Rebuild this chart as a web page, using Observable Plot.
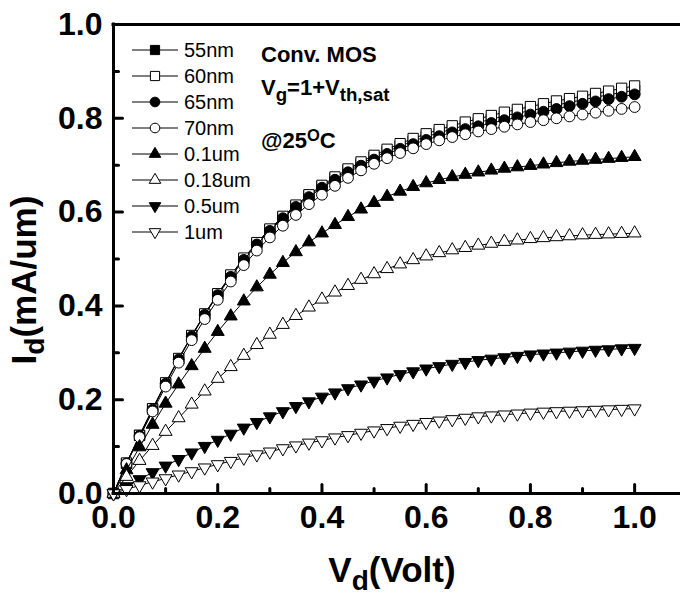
<!DOCTYPE html>
<html>
<head>
<meta charset="utf-8">
<script src="https://cdn.jsdelivr.net/npm/d3@7"></script>
<script src="https://cdn.jsdelivr.net/npm/@observablehq/plot@0.6"></script>
<style>
  html, body { margin: 0; padding: 0; background: #fff; }
  #chart { position: relative; width: 680px; height: 595px; overflow: hidden;
           font-family: "Liberation Sans", Arial, Helvetica, sans-serif; color: #000; }
  #chart > svg { position: absolute; left: 0; top: 0; }
  .txt { position: absolute; white-space: nowrap; line-height: 1; }
  .b { font-weight: bold; }
  .sub { position: relative; top: 0.32em; font-size: 0.85em; }
  .sup { position: relative; top: -0.45em; font-size: 0.75em; }
  #legend { position: absolute; left: 128px; top: 37px; font-size: 20px; }
  #legend .row { display: flex; align-items: center; height: 26px; }
  #legend .row svg { display: block; margin-right: 4px; }
</style>
</head>
<body>
<div id="chart"></div>
<script>
// Drain current I_d (mA/um) versus drain voltage V_d (V), conventional MOS, Vg = 1 + Vth,sat, 25 °C
const vd = [0, 0.025, 0.05, 0.075, 0.1, 0.125, 0.15, 0.175, 0.2, 0.225, 0.25, 0.275, 0.3, 0.325,
  0.35, 0.375, 0.4, 0.425, 0.45, 0.475, 0.5, 0.525, 0.55, 0.575, 0.6, 0.625, 0.65, 0.675, 0.7,
  0.725, 0.75, 0.775, 0.8, 0.825, 0.85, 0.875, 0.9, 0.925, 0.95, 0.975, 1.0];

const lengths = ["55nm", "60nm", "65nm", "70nm", "0.1um", "0.18um", "0.5um", "1um"];

const id55 = [0, 0.064, 0.124, 0.180, 0.235, 0.287, 0.336, 0.382, 0.425, 0.464, 0.500, 0.533, 0.562,
  0.589, 0.613, 0.635, 0.655, 0.672, 0.689, 0.703, 0.717, 0.729, 0.741, 0.751, 0.761, 0.769, 0.777,
  0.785, 0.791, 0.798, 0.805, 0.811, 0.816, 0.822, 0.828, 0.834, 0.839, 0.845, 0.850, 0.855, 0.860];
const id60 = [0, 0.065, 0.124, 0.181, 0.236, 0.288, 0.337, 0.383, 0.426, 0.466, 0.502, 0.535, 0.564,
  0.591, 0.615, 0.637, 0.657, 0.675, 0.692, 0.707, 0.721, 0.734, 0.746, 0.757, 0.767, 0.776, 0.784,
  0.792, 0.799, 0.806, 0.813, 0.819, 0.825, 0.831, 0.837, 0.842, 0.847, 0.853, 0.858, 0.864, 0.869];
const id65 = [0, 0.064, 0.123, 0.179, 0.234, 0.286, 0.335, 0.381, 0.423, 0.462, 0.498, 0.531, 0.560,
  0.587, 0.611, 0.632, 0.652, 0.669, 0.685, 0.699, 0.712, 0.724, 0.735, 0.745, 0.754, 0.762, 0.770,
  0.777, 0.783, 0.790, 0.796, 0.802, 0.808, 0.814, 0.820, 0.826, 0.831, 0.836, 0.841, 0.846, 0.851];
const id70 = [0, 0.063, 0.120, 0.175, 0.228, 0.279, 0.327, 0.372, 0.413, 0.452, 0.487, 0.518, 0.546,
  0.571, 0.594, 0.617, 0.637, 0.656, 0.673, 0.689, 0.703, 0.715, 0.726, 0.736, 0.745, 0.753, 0.760,
  0.766, 0.772, 0.777, 0.782, 0.787, 0.792, 0.796, 0.800, 0.804, 0.808, 0.812, 0.816, 0.820, 0.824];
const id100 = [0, 0.050, 0.099, 0.147, 0.192, 0.233, 0.272, 0.309, 0.345, 0.378, 0.410, 0.440, 0.467,
  0.492, 0.515, 0.536, 0.555, 0.573, 0.590, 0.606, 0.620, 0.633, 0.644, 0.654, 0.662, 0.669, 0.675,
  0.680, 0.685, 0.689, 0.693, 0.696, 0.699, 0.702, 0.705, 0.708, 0.710, 0.712, 0.714, 0.716, 0.718];
const id180 = [0, 0.036, 0.070, 0.102, 0.132, 0.161, 0.190, 0.218, 0.245, 0.270, 0.294, 0.317, 0.339,
  0.360, 0.379, 0.397, 0.414, 0.429, 0.443, 0.456, 0.468, 0.479, 0.489, 0.498, 0.506, 0.513, 0.519,
  0.524, 0.529, 0.533, 0.537, 0.540, 0.543, 0.545, 0.547, 0.549, 0.551, 0.552, 0.553, 0.554, 0.555];
const id500 = [0, 0.015, 0.030, 0.045, 0.059, 0.073, 0.087, 0.101, 0.114, 0.127, 0.140, 0.152, 0.164,
  0.175, 0.186, 0.196, 0.206, 0.215, 0.224, 0.232, 0.240, 0.247, 0.254, 0.260, 0.266, 0.271, 0.276,
  0.280, 0.284, 0.287, 0.290, 0.293, 0.296, 0.298, 0.300, 0.302, 0.304, 0.306, 0.307, 0.309, 0.310];
const id1000 = [0, 0.009, 0.017, 0.025, 0.032, 0.040, 0.047, 0.055, 0.062, 0.069, 0.076, 0.083, 0.089,
  0.096, 0.102, 0.108, 0.113, 0.119, 0.124, 0.129, 0.134, 0.139, 0.144, 0.148, 0.152, 0.155, 0.158,
  0.161, 0.164, 0.166, 0.168, 0.170, 0.172, 0.174, 0.175, 0.176, 0.177, 0.178, 0.179, 0.180, 0.181];

const currents = [id55, id60, id65, id70, id100, id180, id500, id1000];

// axis ticks
const xMajor = [0, 0.2, 0.4, 0.6, 0.8, 1.0];
const xMinor = [0.1, 0.3, 0.5, 0.7, 0.9];
const yMajor = [0, 0.2, 0.4, 0.6, 0.8, 1.0];
const yMinor = [0.1, 0.3, 0.5, 0.7, 0.9];

// marker style per channel length (filled / open squares, circles, up and down triangles)
const markers = [
  {symbol: "square", fill: "#000", rotate: 0, r: 5.8},
  {symbol: "square", fill: "#fff", rotate: 0, r: 5.8},
  {symbol: "circle", fill: "#000", rotate: 0, r: 5.4},
  {symbol: "circle", fill: "#fff", rotate: 0, r: 5.4},
  {symbol: "triangle", fill: "#000", rotate: 0, r: 4.8},
  {symbol: "triangle", fill: "#fff", rotate: 0, r: 4.8},
  {symbol: "triangle", fill: "#000", rotate: 180, r: 4.8},
  {symbol: "triangle", fill: "#fff", rotate: 180, r: 4.8}
];

const tables = lengths.map((name, k) => vd.map((v, i) => ({length: name, vd: v, id: currents[k][i]})));

// short inward tick drawn by a vector mark
const tickShape = {draw(context, l) { context.moveTo(0, 0); context.lineTo(0, -l); }};
const fmt = d => d.toFixed(1);

const seriesMarks = tables.flatMap((rows, k) => [
  Plot.line(rows, {x: "vd", y: "id", stroke: "#000", strokeWidth: 1}),
  Plot.dot(rows, {x: "vd", y: "id", symbol: markers[k].symbol, r: markers[k].r,
    rotate: markers[k].rotate, fill: markers[k].fill, stroke: "#000", strokeWidth: 1})
]);

const chart = Plot.plot({
  width: 680,
  height: 595,
  marginLeft: 113,
  marginRight: 0,
  marginTop: 24,
  marginBottom: 102,
  x: {domain: [0, 1.088]},
  y: {domain: [0, 1]},
  style: {fontFamily: '"Liberation Sans", Arial, sans-serif', background: "#fff", color: "#000"},
  marks: [
    ...seriesMarks,
    // frame: left, bottom and top edges
    Plot.ruleX([0], {stroke: "#000", strokeWidth: 3, strokeLinecap: "square"}),
    Plot.ruleY([0, 1], {stroke: "#000", strokeWidth: 3, strokeLinecap: "square"}),
    // inward ticks
    Plot.vector(xMajor, {x: d => d, frameAnchor: "bottom", length: 9, rotate: 0, anchor: "start",
      shape: tickShape, stroke: "#000", strokeWidth: 3}),
    Plot.vector(xMinor, {x: d => d, frameAnchor: "bottom", length: 5, rotate: 0, anchor: "start",
      shape: tickShape, stroke: "#000", strokeWidth: 3}),
    Plot.vector(yMajor, {y: d => d, frameAnchor: "left", length: 9, rotate: 90, anchor: "start",
      shape: tickShape, stroke: "#000", strokeWidth: 3}),
    Plot.vector(yMinor, {y: d => d, frameAnchor: "left", length: 5, rotate: 90, anchor: "start",
      shape: tickShape, stroke: "#000", strokeWidth: 3}),
    // tick labels
    Plot.axisX(xMajor, {tickSize: 0, tickPadding: 12, tickFormat: fmt, label: null,
      fontSize: 32, fontWeight: "bold"}),
    Plot.axisY(yMajor, {tickSize: 0, tickPadding: 11, tickFormat: fmt, label: null,
      fontSize: 32, fontWeight: "bold"})
  ]
});

const root = document.getElementById("chart");
root.appendChild(chart);

// axis titles and annotations
function addText(html, style, cls) {
  const el = document.createElement("div");
  el.className = "txt " + (cls || "");
  el.innerHTML = html;
  Object.assign(el.style, style);
  root.appendChild(el);
  return el;
}

addText('V<span class="sub" style="font-size:0.8em;top:0.3em">d</span>(Volt)',
  {left: "392px", top: "552px", fontSize: "35px", transform: "translateX(-50%)"}, "b");
addText('I<span class="sub" style="font-size:0.8em;top:0.3em">d</span>(mA/um)',
  {left: "23px", top: "280px", fontSize: "35px", transform: "translate(-50%, -50%) rotate(-90deg)"}, "b");

addText('Conv. MOS', {left: "261px", top: "44px", fontSize: "22px"}, "b");
addText('V<span class="sub">g</span>=1+V<span class="sub">th,sat</span>',
  {left: "261px", top: "77px", fontSize: "22px"}, "b");
addText('@25<span class="sup">O</span>C', {left: "261px", top: "130px", fontSize: "22px"}, "b");

// legend
const legend = document.createElement("div");
legend.id = "legend";
root.appendChild(legend);
const symbolTypes = {square: d3.symbolSquare, circle: d3.symbolCircle, triangle: d3.symbolTriangle};
lengths.forEach((name, k) => {
  const m = markers[k];
  const row = document.createElement("div");
  row.className = "row";
  const svg = d3.create("svg").attr("width", 52).attr("height", 16);
  svg.append("line").attr("x1", 4).attr("x2", 50).attr("y1", 8).attr("y2", 8)
    .attr("stroke", "#000").attr("stroke-width", 1);
  svg.append("path")
    .attr("d", d3.symbol(symbolTypes[m.symbol], Math.PI * m.r * m.r * 0.8)())
    .attr("transform", `translate(27,8) rotate(${m.rotate})`)
    .attr("fill", m.fill).attr("stroke", "#000").attr("stroke-width", 1);
  row.appendChild(svg.node());
  const label = document.createElement("span");
  label.textContent = name;
  row.appendChild(label);
  legend.appendChild(row);
});
</script>
</body>
</html>
